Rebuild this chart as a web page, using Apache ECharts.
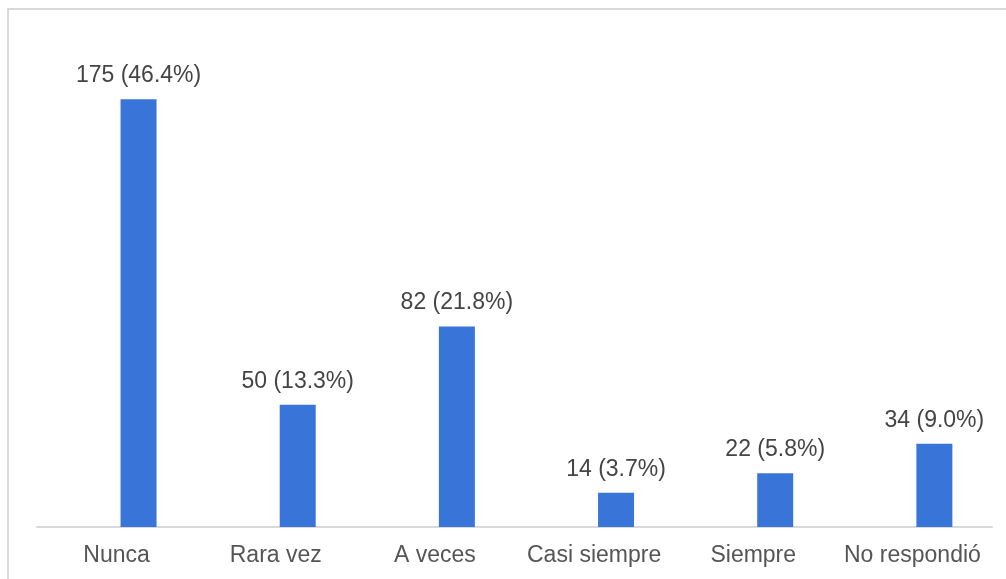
<!DOCTYPE html>
<html>
<head>
<meta charset="utf-8">
<script src="https://cdn.jsdelivr.net/npm/echarts@6/dist/echarts.min.js"></script>
<style>
  html, body { margin: 0; padding: 0; background: #fff; }
  #chart { width: 1006px; height: 579px; }
</style>
</head>
<body>
<div id="chart"></div>
<script>
var categories = ['Nunca', 'Rara vez', 'A veces', 'Casi siempre', 'Siempre', 'No respondió']
var counts = [175, 50, 82, 14, 22, 34]
var percents = ['46.4', '13.3', '21.8', '3.7', '5.8', '9.0']

var myChart = echarts.init(document.getElementById('chart'))
var option = {
  animation: false,
  grid: { left: 37, right: 14, top: 38, bottom: 52 },
  graphic: [
    { type: 'line', shape: { x1: 7, y1: 9, x2: 1006, y2: 9 }, style: { stroke: '#d9d9d9', lineWidth: 2 } },
    { type: 'line', shape: { x1: 8, y1: 9, x2: 8, y2: 579 }, style: { stroke: '#d9d9d9', lineWidth: 2 } }
  ],
  xAxis: {
    type: 'category',
    data: categories,
    axisLine: { lineStyle: { color: '#d9d9d9', width: 2 } },
    axisTick: { show: false },
    axisLabel: {
      interval: 0,
      color: '#555',
      fontSize: 23,
      fontFamily: 'Liberation Sans',
      margin: 17
    }
  },
  yAxis: {
    type: 'value',
    min: 0,
    max: 200,
    show: false,
    splitLine: { show: false }
  },
  series: [
    {
      // empty slot so the real bars sit right of the category centre
      type: 'bar',
      data: categories.map(function () { return '-' }),
      barWidth: 36,
      barGap: '22%',
      silent: true
    },
    {
      type: 'bar',
      data: counts,
      barWidth: 36,
      itemStyle: { color: '#3975d9' },
      label: {
        show: true,
        position: 'top',
        distance: 12,
        color: '#444',
        fontSize: 23,
        fontFamily: 'Liberation Sans',
        formatter: function (p) {
          return p.value + ' (' + percents[p.dataIndex] + '%)'
        }
      }
    }
  ]
}
myChart.setOption(option)
</script>
</body>
</html>
